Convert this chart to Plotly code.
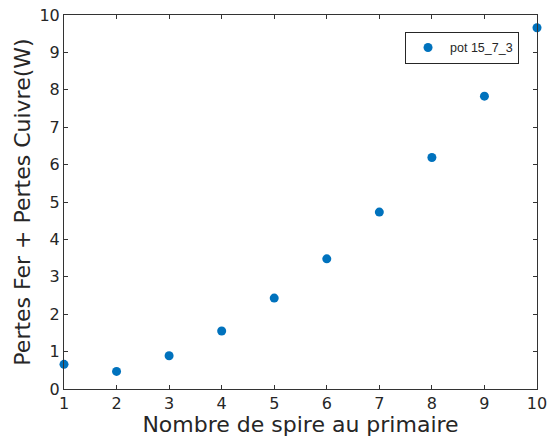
import plotly.graph_objects as go

n_spires = [1, 2, 3, 4, 5, 6, 7, 8, 9, 10]
pertes = [0.66, 0.47, 0.89, 1.55, 2.43, 3.48, 4.73, 6.19, 7.83, 9.66]
series_name = "pot 15_7_3"

fig = go.Figure()
fig.add_trace(go.Scatter(
    x=n_spires, y=pertes, mode="markers", name=series_name,
    marker=dict(color="#0072BD", size=9, symbol="circle"),
    cliponaxis=False,
))

axis_common = dict(
    showgrid=False, zeroline=False, showline=True, linecolor="#333333", linewidth=1,
    mirror="ticks", ticks="inside", ticklen=4, tickcolor="#333333",
    tickfont=dict(family="DejaVu Sans", size=16, color="#262626"),
    automargin=False,
)

fig.update_layout(
    width=559, height=437,
    margin=dict(l=64, r=22, t=15, b=48),
    plot_bgcolor="white", paper_bgcolor="white",
    showlegend=True,
    legend=dict(
        x=0.962, y=0.955, xanchor="right", yanchor="top",
        bgcolor="white", bordercolor="#262626", borderwidth=1,
        font=dict(family="Liberation Sans", size=12.5, color="#262626"),
        itemwidth=34,
    ),
    xaxis=dict(range=[1, 10], tickvals=list(range(1, 11)),
               title=dict(text="Nombre de spire au primaire", standoff=2,
                          font=dict(family="DejaVu Sans", size=22, color="#262626")),
               **axis_common),
    yaxis=dict(range=[0, 10], tickvals=list(range(0, 11)),
               title=dict(text="Pertes Fer + Pertes Cuivre(W)", standoff=2,
                          font=dict(family="DejaVu Sans", size=22, color="#262626")),
               **axis_common),
)

fig.write_html("out.html", config={"displayModeBar": False},
               post_script="document.body.style.margin='0';")
